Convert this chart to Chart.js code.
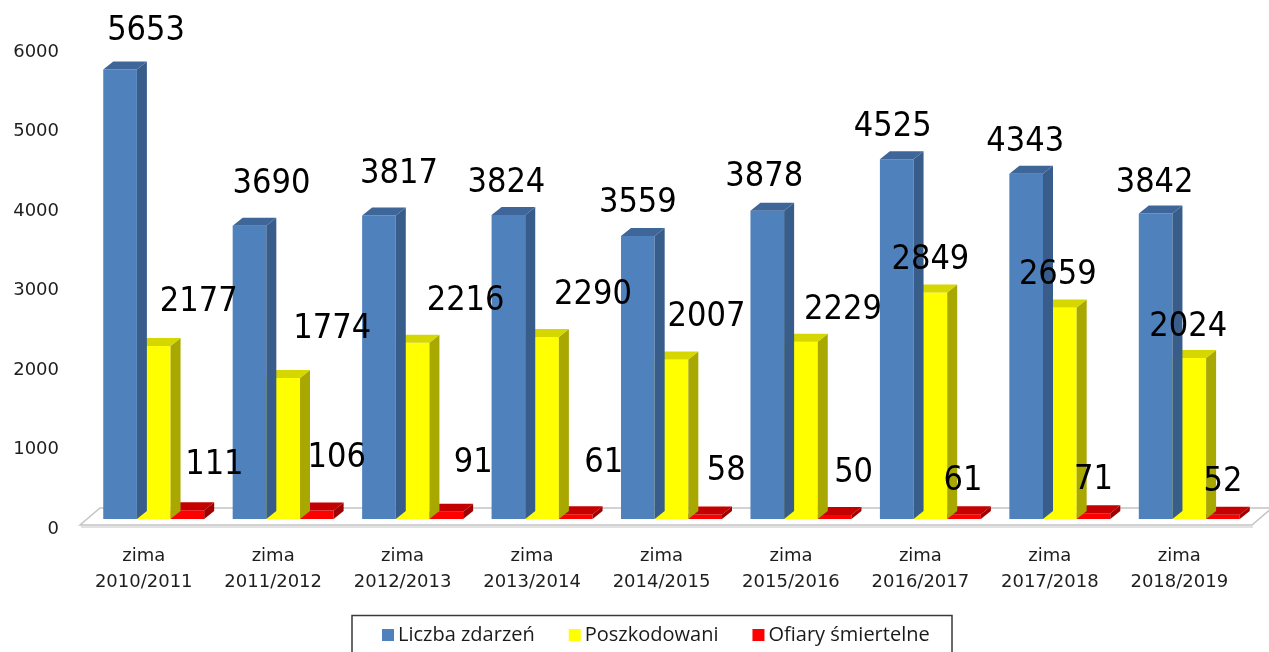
<!DOCTYPE html>
<html>
<head>
<meta charset="utf-8">
<script src="https://cdn.jsdelivr.net/npm/chart.js@4.4.1/dist/chart.umd.min.js"></script>
<style>
  html, body { margin: 0; padding: 0; background: #fff; overflow: hidden; }
  #wrap { position: relative; width: 1269px; height: 652px; }
</style>
</head>
<body>
<div id="wrap"><canvas id="chart"></canvas></div>
<script>
// chart data
const seasons = [
    ['zima', '2010/2011'], ['zima', '2011/2012'], ['zima', '2012/2013'],
    ['zima', '2013/2014'], ['zima', '2014/2015'], ['zima', '2015/2016'],
    ['zima', '2016/2017'], ['zima', '2017/2018'], ['zima', '2018/2019']
];
const incidents  = [5653, 3690, 3817, 3824, 3559, 3878, 4525, 4343, 3842];
const injured    = [2177, 1774, 2216, 2290, 2007, 2229, 2849, 2659, 2024];
const fatalities = [111, 106, 91, 61, 58, 50, 61, 71, 52];
const seriesNames = ['Liczba zdarzeń', 'Poszkodowani', 'Ofiary śmiertelne'];

const yMin = 0;
const yMax = 6000;
const yStep = 1000;

// label nudges (px) relative to default spot above each bar, like the hand-placed Excel labels
const labelNudge = [
    [[26, -6], [22, -9], [20, -9], [-2, 0], [0, -1], [-3, -2], [-4, 0], [-1, 0], [-1, 2]],
    [[45, -12], [49, -17], [53, -10], [51, -10], [35, -10], [42, 0], [0, 0], [-2, 0], [-1, 1]],
    [[27, -13], [20, -20], [27, -17], [28, -19], [21, -11], [19, -10], [-1, -1], [0, -1], [0, -1]]
];

// fake 3D depth
const depthX = 10;
const depthY = 8;

const floorPlugin = {
    id: 'floor',
    beforeDatasetsDraw(chart) {
        const { ctx, chartArea, scales } = chart;
        const base = scales.y.getPixelForValue(0);
        const l = chartArea.left - 9;
        const r = chartArea.right - 2;
        ctx.save();
        ctx.beginPath();
        ctx.moveTo(l, base + 6);
        ctx.lineTo(r, base + 6);
        ctx.lineTo(r + 20, base - 11);
        ctx.lineTo(l + 20, base - 11);
        ctx.closePath();
        ctx.fillStyle = '#ffffff';
        ctx.fill();
        ctx.strokeStyle = '#c4c4c4';
        ctx.lineWidth = 1.5;
        ctx.stroke();
        ctx.beginPath();
        ctx.moveTo(l + 1, base + 8);
        ctx.lineTo(r + 1, base + 8);
        ctx.strokeStyle = '#e2e2e2';
        ctx.lineWidth = 2;
        ctx.stroke();
        ctx.restore();
    }
};

const bar3dPlugin = {
    id: 'bar3d',
    afterDatasetDraw(chart, args) {
        const ctx = chart.ctx;
        const ds = chart.data.datasets[args.index];
        ctx.save();
        args.meta.data.forEach(bar => {
            const { x, y, base, width } = bar.getProps(['x', 'y', 'base', 'width'], true);
            const left = x - width / 2;
            const right = x + width / 2;
            // side face
            ctx.beginPath();
            ctx.moveTo(right, y);
            ctx.lineTo(right + depthX, y - depthY);
            ctx.lineTo(right + depthX, base - depthY);
            ctx.lineTo(right, base);
            ctx.closePath();
            ctx.fillStyle = ds.sideColor;
            ctx.fill();
            // top face
            ctx.beginPath();
            ctx.moveTo(left, y);
            ctx.lineTo(left + depthX, y - depthY);
            ctx.lineTo(right + depthX, y - depthY);
            ctx.lineTo(right, y);
            ctx.closePath();
            ctx.fillStyle = ds.topColor;
            ctx.fill();
        });
        ctx.restore();
    }
};

const valueLabelPlugin = {
    id: 'valueLabels',
    afterDatasetsDraw(chart) {
        const ctx = chart.ctx;
        ctx.save();
        ctx.font = '34px "DejaVu Sans"';
        ctx.fillStyle = '#000000';
        ctx.textAlign = 'center';
        ctx.textBaseline = 'middle';
        chart.data.datasets.forEach((ds, di) => {
            chart.getDatasetMeta(di).data.forEach((bar, i) => {
                const nudge = labelNudge[di][i];
                const lx = bar.x + nudge[0];
                const ly = bar.y - 32 + nudge[1];
                ctx.save();
                ctx.translate(lx, ly);
                ctx.scale(0.9, 1);
                ctx.fillText(String(ds.data[i]), 0, 0);
                ctx.restore();
            });
        });
        ctx.restore();
    }
};

const boxedLegendPlugin = {
    id: 'boxedLegend',
    afterDraw(chart) {
        const ctx = chart.ctx;
        ctx.save();
        ctx.strokeStyle = '#3a3a3a';
        ctx.lineWidth = 1.5;
        ctx.strokeRect(352, 615.5, 600, 50);
        ctx.font = '20px "Open Sans"';
        ctx.textBaseline = 'middle';
        ctx.textAlign = 'left';
        let x = 382;
        const cy = 635;
        chart.data.datasets.forEach(ds => {
            ctx.fillStyle = ds.backgroundColor;
            ctx.fillRect(x, cy - 6, 12, 12);
            ctx.fillStyle = '#1a1a1a';
            ctx.fillText(ds.label, x + 16, cy);
            x += 16 + ctx.measureText(ds.label).width + 34;
        });
        ctx.restore();
    }
};

const ctx = document.getElementById('chart').getContext('2d');
new Chart(ctx, {
    type: 'bar',
    data: {
        labels: seasons,
        datasets: [
            {
                label: seriesNames[0],
                data: incidents,
                backgroundColor: '#4f81bd',
                sideColor: '#385d8a',
                topColor: '#3f6699'
            },
            {
                label: seriesNames[1],
                data: injured,
                backgroundColor: '#ffff00',
                sideColor: '#a8a800',
                topColor: '#d6d600'
            },
            {
                label: seriesNames[2],
                data: fatalities,
                backgroundColor: '#ff0000',
                sideColor: '#a00000',
                topColor: '#c40000'
            }
        ]
    },
    options: {
        responsive: true,
        maintainAspectRatio: false,
        animation: false,
        datasets: {
            bar: {
                categoryPercentage: 0.78,
                barPercentage: 1.0,
                borderWidth: 0
            }
        },
        layout: {
            padding: { left: 0, right: 15, top: 42, bottom: 43 }
        },
        scales: {
            x: {
                grid: { display: false, drawTicks: false },
                border: { display: false },
                afterFit(scale) { scale.height = 90; },
                ticks: {
                    color: '#1e1e1e',
                    padding: 24,
                    labelOffset: -10,
                    maxRotation: 0,
                    autoSkip: false,
                    font: { family: 'DejaVu Sans', size: 18, lineHeight: '26px' }
                }
            },
            y: {
                min: yMin,
                max: yMax,
                grid: { display: false, drawTicks: false },
                border: { display: false },
                afterFit(scale) { scale.width = 89; },
                ticks: {
                    stepSize: yStep,
                    color: '#1e1e1e',
                    padding: 30,
                    labelOffset: 10,
                    font: { family: 'DejaVu Sans', size: 18 },
                    callback: value => String(value)
                }
            }
        },
        plugins: {
            legend: { display: false },
            tooltip: { enabled: false }
        }
    },
    plugins: [floorPlugin, bar3dPlugin, valueLabelPlugin, boxedLegendPlugin]
});
</script>
</body>
</html>
